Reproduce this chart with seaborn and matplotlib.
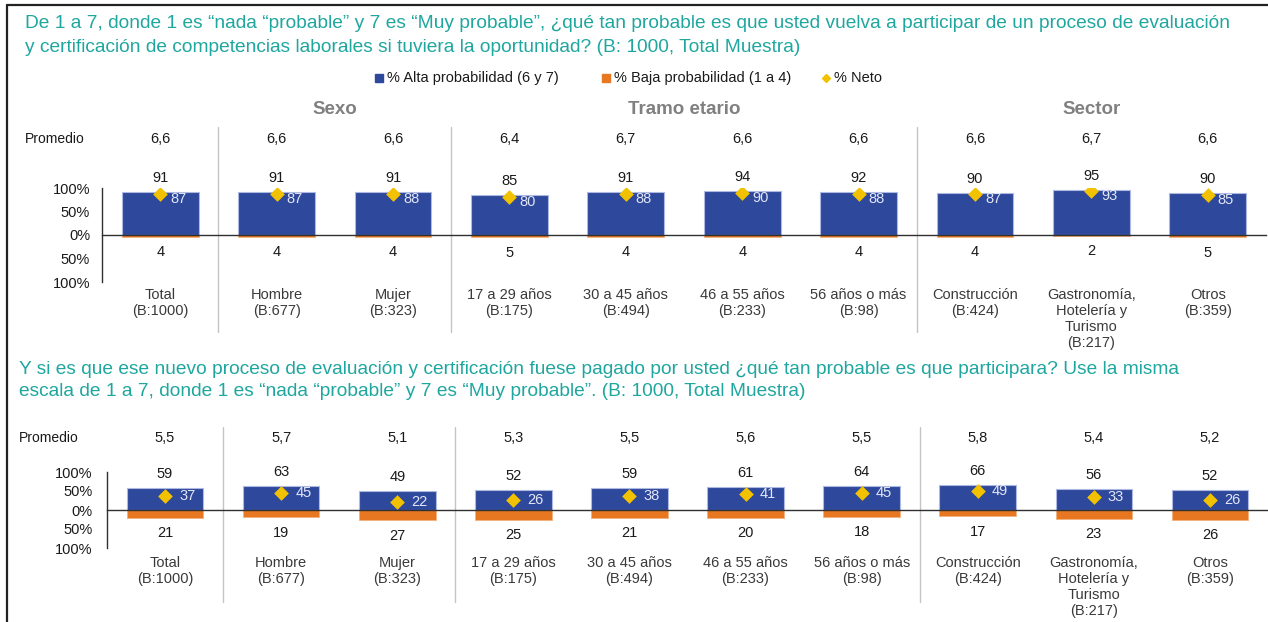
import numpy as np
import pandas as pd
import matplotlib
matplotlib.use("Agg")
import matplotlib.pyplot as plt
from matplotlib.lines import Line2D
from matplotlib.transforms import blended_transform_factory
import seaborn as sns

# ---------------- data ----------------
segmentos = ["Total", "Hombre", "Mujer", "17 a 29 años", "30 a 45 años",
             "46 a 55 años", "56 años o más", "Construcción",
             "Gastronomía,\nHotelería y\nTurismo", "Otros"]
bases = ["B:1000", "B:677", "B:323", "B:175", "B:494", "B:233", "B:98",
         "B:424", "B:217", "B:359"]

grupos = ["Sexo", "Tramo etario", "Sector"]
grupo_desde = [1, 3, 7]
grupo_hasta = [2, 6, 9]

alta_1 = [91, 91, 91, 85, 91, 94, 92, 90, 95, 90]
baja_1 = [4, 4, 4, 5, 4, 4, 4, 4, 2, 5]
neto_1 = [87, 87, 88, 80, 88, 90, 88, 87, 93, 85]
promedio_1 = [6.6, 6.6, 6.6, 6.4, 6.7, 6.6, 6.6, 6.6, 6.7, 6.6]

alta_2 = [59, 63, 49, 52, 59, 61, 64, 66, 56, 52]
baja_2 = [21, 19, 27, 25, 21, 20, 18, 17, 23, 26]
neto_2 = [37, 45, 22, 26, 38, 41, 45, 49, 33, 26]
promedio_2 = [5.5, 5.7, 5.1, 5.3, 5.5, 5.6, 5.5, 5.8, 5.4, 5.2]

titulo_1 = ["De 1 a 7, donde 1 es “nada “probable” y 7 es “Muy probable”, ¿qué tan probable es que usted vuelva a participar de un proceso de evaluación",
            "y certificación de competencias laborales si tuviera la oportunidad? (B: 1000, Total Muestra)"]
titulo_2 = ["Y si es que ese nuevo proceso de evaluación y certificación fuese pagado por usted ¿qué tan probable es que participara? Use la misma",
            "escala de 1 a 7, donde 1 es “nada “probable” y 7 es “Muy probable”. (B: 1000, Total Muestra)"]

leyenda = ["% Alta probabilidad (6 y 7)", "% Baja probabilidad (1 a 4)", "% Neto"]

# ---------------- style ----------------
AZUL = "#2E489B"
BORDE = "#AEB9E3"
NARANJA = "#E87722"
ORO = "#F2C200"
TEAL = "#1FA79F"
TEXTO = "#1A1A1A"
GRIS_CAT = "#3A3A3A"
GRIS_SEP = "#C4C4C4"

sns.set_style("white")
plt.rcParams["font.family"] = ["Liberation Sans", "DejaVu Sans"]
plt.rcParams["font.size"] = 10.5

W, H = 1268, 622
fig = plt.figure(figsize=(W / 100, H / 100), dpi=100)
fig.patch.set_facecolor("white")


def fx(px):
    return px / W


def fy(py):
    return 1 - py / H


def fmt(v):
    return f"{v:.1f}".replace(".", ",")


etiquetas = [f"{s}\n({b})" for s, b in zip(segmentos, bases)]


def panel(alta, baja, neto, promedio, titulo, cfg):
    left, right, y100, ym100, paso = cfg["left"], cfg["right"], cfg["y100"], cfg["ym100"], cfg["paso"]
    ax = fig.add_axes([fx(left), fy(ym100), (right - left) / W, (ym100 - y100) / H])
    df = pd.DataFrame({"segmento": etiquetas, "alta": alta,
                       "baja": [-b for b in baja], "neto": neto})
    sns.barplot(data=df, x="segmento", y="alta", order=etiquetas, color=AZUL,
                saturation=1, width=0.66, edgecolor=BORDE, linewidth=0.8, ax=ax, zorder=2)
    sns.barplot(data=df, x="segmento", y="baja", order=etiquetas, color=NARANJA,
                saturation=1, width=0.66, edgecolor="#F3B27E", linewidth=0.6, ax=ax, zorder=2)
    sns.stripplot(data=df, x="segmento", y="neto", order=etiquetas, jitter=False,
                  marker="D", color=ORO, size=7.5, linewidth=0, ax=ax, zorder=5)

    n = len(etiquetas)
    ax.set_xlim(-0.5, -0.5 + (right - left) / paso)
    ax.set_ylim(-100, 100)
    ax.set_xlabel("")
    ax.set_ylabel("")
    ax.set_facecolor("none")

    for s in ("top", "right"):
        ax.spines[s].set_visible(False)
    ax.spines["bottom"].set_position(("data", 0))
    ax.spines["bottom"].set_color("#303030")
    ax.spines["left"].set_color("#303030")
    ax.spines["bottom"].set_linewidth(1.0)
    ax.spines["left"].set_linewidth(1.0)
    ax.spines["bottom"].set_zorder(6)

    ax.set_xticks(np.arange(0.5, n - 0.4, 1))
    ax.set_xticklabels([])
    ax.tick_params(axis="x", direction="out", length=3, width=0.9, color="#303030")
    ax.set_yticks([-100, -50, 0, 50, 100])
    ax.set_yticklabels(["100%", "50%", "0%", "50%", "100%"])
    ax.tick_params(axis="y", direction="out", length=3, width=0.9, color="#303030",
                   pad=cfg["ypad"], labelsize=10.5, labelcolor=TEXTO)

    k = 0.72  # px -> points at 100 dpi
    for i in range(n):
        ax.annotate(str(alta[i]), (i, alta[i]), xytext=(0, 14 * k), textcoords="offset points",
                    ha="center", va="center", fontsize=10.5, color=TEXTO)
        ax.annotate(str(baja[i]), (i, -baja[i]), xytext=(0, -15.5 * k), textcoords="offset points",
                    ha="center", va="center", fontsize=10.5, color=TEXTO)
        ax.annotate(str(neto[i]), (i, neto[i]), xytext=(cfg["neto_dx"] * k, cfg["neto_dy"] * k),
                    textcoords="offset points", ha="left", va="center", fontsize=10.5,
                    color="#E3E7F6", zorder=6)

    tr = blended_transform_factory(ax.transData, fig.transFigure)
    for i in range(n):
        ax.text(i, fy(cfg["prom_y"]), fmt(promedio[i]), transform=tr, ha="center",
                va="center", fontsize=10.5, color=TEXTO)
        ax.text(i, fy(cfg["cat_y"]), etiquetas[i], transform=tr, ha="center", va="top",
                fontsize=10.5, color=GRIS_CAT, linespacing=1.18)

    for d in grupo_desde:
        ax.plot([d - 0.5, d - 0.5], [fy(cfg["sep_top"]), fy(cfg["sep_bot"])], transform=tr,
                color=GRIS_SEP, lw=1.0, clip_on=False, zorder=1)

    fig.text(fx(cfg["prom_x"]), fy(cfg["prom_y"]), "Promedio", ha="left", va="center",
             fontsize=10, color=TEXTO)
    for j, linea in enumerate(titulo):
        fig.text(fx(cfg["tit_x"]), fy(cfg["tit_y"] + 23 * j), linea, ha="left", va="center",
                 fontsize=13.8, color=TEAL)
    return ax, tr


cfg_1 = dict(left=102, right=1266, y100=188, ym100=282, paso=116.5, ypad=5.5,
             neto_dx=10, neto_dy=-5, prom_y=139, cat_y=288, sep_top=127, sep_bot=332,
             prom_x=25, tit_x=25, tit_y=24)
cfg_2 = dict(left=107, right=1268, y100=472, ym100=548, paso=116.5, ypad=7.5,
             neto_dx=14, neto_dy=0, prom_y=438, cat_y=556, sep_top=427, sep_bot=602,
             prom_x=19, tit_x=19, tit_y=369)

ax1, tr1 = panel(alta_1, baja_1, neto_1, promedio_1, titulo_1, cfg_1)
ax2, tr2 = panel(alta_2, baja_2, neto_2, promedio_2, titulo_2, cfg_2)

# group headers above the first chart
for g, d, h in zip(grupos, grupo_desde, grupo_hasta):
    ax1.text((d + h) / 2, fy(109), g, transform=tr1, ha="center", va="center",
             fontsize=13.5, fontweight="bold", color="#808080")

# legend
ley_x = [379, 606, 826]
ley_txt_x = [387, 614, 834]
ley_col = [AZUL, NARANJA, ORO]
ley_mk = ["s", "s", "D"]
ley_sz = [5.5, 5.5, 4.5]
for lx, tx, c, m, s, t in zip(ley_x, ley_txt_x, ley_col, ley_mk, ley_sz, leyenda):
    fig.add_artist(Line2D([fx(lx)], [fy(78)], marker=m, color=c, markersize=s, linestyle="none"))
    fig.text(fx(tx), fy(78), t, ha="left", va="center", fontsize=10.5, color=TEXTO)

# outer frame
fig.add_artist(Line2D([fx(7), 1], [fy(5), fy(5)], color="#222222", lw=1.6))
fig.add_artist(Line2D([fx(7), fx(7)], [fy(5), 0], color="#222222", lw=1.6))

fig.savefig("out.png", dpi=100, facecolor="white")
